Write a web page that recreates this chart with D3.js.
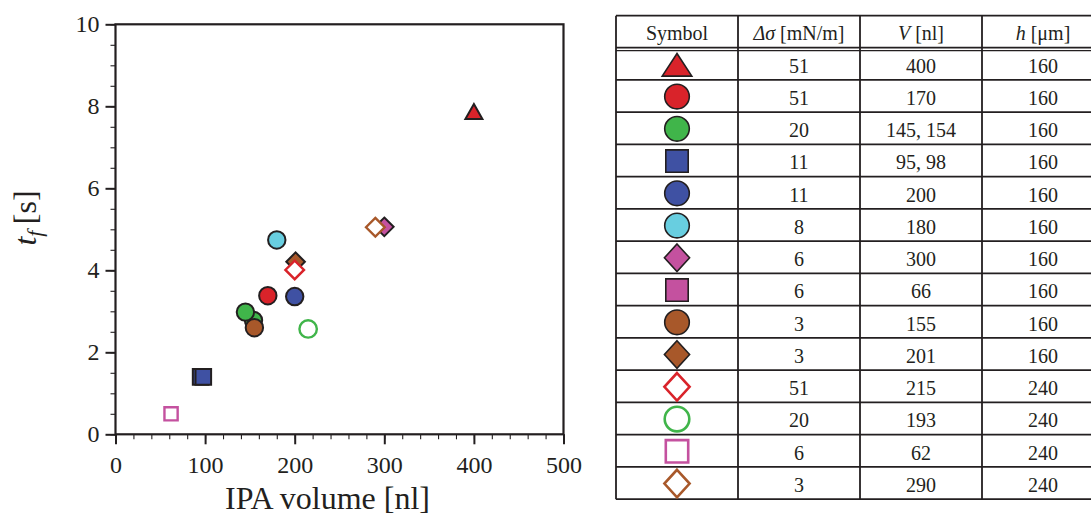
<!DOCTYPE html>
<html>
<head>
<meta charset="utf-8">
<script src="https://cdn.jsdelivr.net/npm/d3@7"></script>
<style>
  html, body { margin: 0; padding: 0; background: #fff; }
  svg { display: block; }
</style>
</head>
<body>
<svg id="fig" width="1091" height="518"></svg>
<script>
// ---- Table rows (one per experimental set) ----
const shapes      = ["triangle", "circle", "circle", "square", "circle", "circle", "diamond", "square", "circle", "diamond", "diamond", "circle", "square", "diamond"];
const colors      = ["#d9232a", "#d9232a", "#40b54a", "#3f51a3", "#3f51a3", "#68cee0", "#c4519f", "#c4519f", "#a8582a", "#a8582a", "#d9232a", "#40b54a", "#c4519f", "#a8582a"];
const filled      = [true, true, true, true, true, true, true, true, true, true, false, false, false, false];
const deltaSigma  = ["51", "51", "20", "11", "11", "8", "6", "6", "3", "3", "51", "20", "6", "3"];
const volumeText  = ["400", "170", "145, 154", "95, 98", "200", "180", "300", "66", "155", "201", "215", "193", "62", "290"];
const channelH    = ["160", "160", "160", "160", "160", "160", "160", "160", "160", "160", "240", "240", "240", "240"];

// ---- Measured points (row index into the table, IPA volume, t_f), in drawing order ----
const pointRow    = [0, 1, 2, 8, 2, 3, 3, 4, 5, 6, 9, 10, 11, 12, 13];
const pointVolume = [400, 170, 154, 155, 145, 95, 98, 200, 180, 300, 201, 200, 215, 62, 290];
const pointTime   = [7.85, 3.38, 2.78, 2.60, 2.98, 1.40, 1.40, 3.36, 4.74, 5.06, 4.21, 4.01, 2.57, 0.50, 5.05];

// ---- Axis ticks ----
const xTicks = [0, 100, 200, 300, 400, 500];
const yTicks = [0, 2, 4, 6, 8, 10];

const ink = "#231f20";
const serif = "\"Liberation Serif\", \"Times New Roman\", Tinos, serif";
const svg = d3.select("#fig");

// apply the serif face and size inline to a text selection
function face(sel, size) {
  return sel.style("font-family", serif).style("font-size", size + "px");
}

// marker outline generator: centred at (0,0), sized by half-extents
function markerPath(shape, s) {
  const p = d3.path();
  if (shape === "circle") {
    p.arc(0, 0, s.r, 0, 2 * Math.PI);
  } else if (shape === "square") {
    p.rect(-s.a, -s.a, 2 * s.a, 2 * s.a);
  } else if (shape === "diamond") {
    p.moveTo(0, -s.dh); p.lineTo(s.dw, 0); p.lineTo(0, s.dh); p.lineTo(-s.dw, 0); p.closePath();
  } else if (shape === "triangle") {
    p.moveTo(0, -s.tUp); p.lineTo(s.tw, s.tDown); p.lineTo(-s.tw, s.tDown); p.closePath();
  }
  return p.toString();
}

// ================= Scatter plot =================
const plot = { left: 115.5, right: 563.5, top: 24.3, bottom: 434.3 };
const x = d3.scaleLinear().domain([0, 500]).range([plot.left, plot.right]);
const y = d3.scaleLinear().domain([0, 10]).range([plot.bottom, plot.top]);

const axes = svg.append("g");

// minor ticks
axes.append("g")
  .attr("transform", `translate(0,${plot.bottom})`)
  .call(d3.axisBottom(x).tickValues(d3.range(0, 501, 20)).tickSize(5).tickFormat(""))
  .call(g => g.select(".domain").remove())
  .call(g => g.selectAll("line").attr("stroke", ink).attr("stroke-width", 1.1));
axes.append("g")
  .attr("transform", `translate(${plot.left},0)`)
  .call(d3.axisLeft(y).tickValues(d3.range(0, 10.01, 0.5)).tickSize(5).tickFormat(""))
  .call(g => g.select(".domain").remove())
  .call(g => g.selectAll("line").attr("stroke", ink).attr("stroke-width", 1.1));

// major ticks with labels
axes.append("g")
  .attr("transform", `translate(0,${plot.bottom})`)
  .call(d3.axisBottom(x).tickValues(xTicks).tickSize(10).tickPadding(12).tickFormat(d3.format("d")))
  .call(g => g.select(".domain").remove())
  .call(g => g.selectAll("line").attr("stroke", ink).attr("stroke-width", 2))
  .call(g => face(g.selectAll("text"), 24).attr("fill", ink));
axes.append("g")
  .attr("transform", `translate(${plot.left},0)`)
  .call(d3.axisLeft(y).tickValues(yTicks).tickSize(10).tickPadding(6).tickFormat(d3.format("d")))
  .call(g => g.select(".domain").remove())
  .call(g => g.selectAll("line").attr("stroke", ink).attr("stroke-width", 2))
  .call(g => face(g.selectAll("text"), 24).attr("fill", ink));

// frame
svg.append("rect")
  .attr("x", plot.left).attr("y", plot.top)
  .attr("width", plot.right - plot.left).attr("height", plot.bottom - plot.top)
  .attr("fill", "none").attr("stroke", ink).attr("stroke-width", 2.2);

// axis titles
face(svg.append("text"), 32)
  .attr("x", 327.5).attr("y", 509)
  .attr("text-anchor", "middle")
  .attr("fill", ink)
  .text("IPA volume [nl]");

const yTitle = face(svg.append("text"), 32)
  .attr("transform", "translate(36,218) rotate(-90)")
  .attr("text-anchor", "middle")
  .attr("fill", ink);
yTitle.append("tspan").style("font-style", "italic").text("t");
yTitle.append("tspan").style("font-style", "italic").style("font-size", "22px").attr("dy", 6).text("f");
yTitle.append("tspan").attr("dy", -6).text("\u2009[s]");

// point markers
const plotSize = { r: 8.7, a: 7.8, dw: 9.3, dh: 9.3, tw: 8.5, tUp: 8.5, tDown: 6.5 };
const openSquareSize = { a: 6.6 };
const pts = pointRow.map((row, i) => ({ row, v: pointVolume[i], t: pointTime[i] }));

svg.append("g").selectAll("path")
  .data(pts)
  .join("path")
  .attr("transform", d => `translate(${x(d.v)},${y(d.t)})`)
  .attr("d", d => markerPath(shapes[d.row], (!filled[d.row] && shapes[d.row] === "square") ? openSquareSize : plotSize))
  .attr("fill", d => filled[d.row] ? colors[d.row] : "#fff")
  .attr("stroke", d => filled[d.row] ? ink : colors[d.row])
  .attr("stroke-width", d => filled[d.row] ? 2 : 2.4)
  .attr("stroke-linejoin", "miter");

// ================= Symbol table =================
const colEdges = [616, 738, 860, 982, 1104];
const tableTop = 15.7, headTop = 15.7, headBottom = 47.7, rowH = 32.25;
const nRows = shapes.length;
const tableBottom = headBottom + nRows * rowH;
const table = svg.append("g");

// row separators
const rowLines = d3.range(nRows + 1).map(i => headBottom + i * rowH);
table.selectAll("line.row")
  .data(rowLines)
  .join("line")
  .attr("x1", colEdges[0]).attr("x2", colEdges[colEdges.length - 1])
  .attr("y1", d => d).attr("y2", d => d)
  .attr("stroke", ink).attr("stroke-width", 1.8);
// header top and the extra rule under the header
table.selectAll("line.head")
  .data([tableTop, headBottom + 3])
  .join("line")
  .attr("x1", colEdges[0]).attr("x2", colEdges[colEdges.length - 1])
  .attr("y1", d => d).attr("y2", d => d)
  .attr("stroke", ink).attr("stroke-width", d => d === tableTop ? 1.8 : 1.2);
// column separators
table.selectAll("line.col")
  .data(colEdges)
  .join("line")
  .attr("x1", d => d).attr("x2", d => d)
  .attr("y1", tableTop).attr("y2", tableBottom)
  .attr("stroke", ink).attr("stroke-width", 1.8);

const colCenter = d3.range(4).map(i => (colEdges[i] + colEdges[i + 1]) / 2);

// header
const headY = headTop + 24.5;
face(table.append("text"), 20).attr("x", colCenter[0]).attr("y", headY)
  .attr("text-anchor", "middle").attr("fill", ink).text("Symbol");
const h1 = face(table.append("text"), 20).attr("x", colCenter[1]).attr("y", headY)
  .attr("text-anchor", "middle").attr("fill", ink);
h1.append("tspan").style("font-style", "italic").text("\u0394\u03c3");
h1.append("tspan").text(" [mN/m]");
const h2 = face(table.append("text"), 20).attr("x", colCenter[2]).attr("y", headY)
  .attr("text-anchor", "middle").attr("fill", ink);
h2.append("tspan").style("font-style", "italic").text("V");
h2.append("tspan").text(" [nl]");
const h3 = face(table.append("text"), 20).attr("x", colCenter[3]).attr("y", headY)
  .attr("text-anchor", "middle").attr("fill", ink);
h3.append("tspan").style("font-style", "italic").text("h");
h3.append("tspan").text(" [\u03bcm]");

// body rows
const rows = table.selectAll("g.tr")
  .data(d3.range(nRows))
  .join("g")
  .attr("transform", i => `translate(0,${headBottom + i * rowH})`);

const cellSize = { r: 12.3, a: 11.2, dw: 12.6, dh: 13.8, tw: 14.8, tUp: 10.8, tDown: 11.8 };
rows.append("path")
  .attr("transform", `translate(${colCenter[0]},${rowH / 2 + 0.5})`)
  .attr("d", i => markerPath(shapes[i], cellSize))
  .attr("fill", i => filled[i] ? colors[i] : "#fff")
  .attr("stroke", i => filled[i] ? ink : colors[i])
  .attr("stroke-width", i => filled[i] ? 1.6 : 2.6);

const cellText = [deltaSigma, volumeText, channelH];
cellText.forEach((col, c) => {
  face(rows.append("text"), 20)
    .attr("x", colCenter[c + 1]).attr("y", 25)
    .attr("text-anchor", "middle")
    .attr("fill", ink)
    .text(i => col[i]);
});
</script>
</body>
</html>
